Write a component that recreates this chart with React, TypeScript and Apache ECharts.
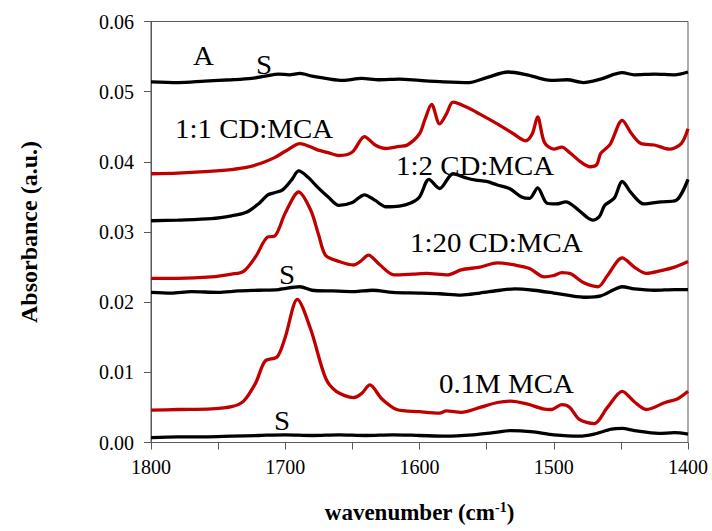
import React, { useEffect, useRef } from "react";
import * as echarts from "echarts";

// x-axis ticks (wavenumber, cm-1)
const xTicks = [1800, 1700, 1600, 1500, 1400];
const yTicks = [0, 0.01, 0.02, 0.03, 0.04, 0.05, 0.06];

// "A" spectrum (black, top)
const wnA = [1800, 1780, 1760, 1740, 1725, 1715, 1705, 1697, 1689, 1680, 1670, 1657, 1643, 1630, 1615, 1600, 1582, 1563, 1550, 1534, 1520, 1502, 1490, 1478, 1465, 1449, 1440, 1425, 1410, 1400];
const absA = [0.0514, 0.0513, 0.0515, 0.0517, 0.0519, 0.0522, 0.0525, 0.0524, 0.0526, 0.0522, 0.0519, 0.0516, 0.0519, 0.0517, 0.0518, 0.0516, 0.0514, 0.0513, 0.052, 0.0528, 0.0524, 0.0516, 0.0517, 0.0513, 0.0518, 0.0527, 0.0524, 0.0525, 0.0524, 0.0528];

// 1:1 CD:MCA (red)
const wn11 = [1800, 1780, 1760, 1740, 1729, 1718, 1708, 1700, 1689, 1682, 1676, 1668, 1660, 1650, 1641, 1633, 1625, 1615, 1609, 1600, 1596, 1591, 1585, 1580, 1575, 1565, 1555, 1542, 1530, 1521, 1516, 1512, 1507, 1500, 1494, 1488, 1480, 1473, 1468, 1465, 1458, 1449, 1442, 1435, 1425, 1414, 1405, 1400];
const abs11 = [0.0383, 0.0384, 0.0386, 0.0389, 0.0392, 0.0398, 0.0406, 0.0415, 0.0426, 0.0422, 0.0417, 0.0413, 0.0409, 0.0414, 0.0436, 0.0424, 0.0419, 0.0422, 0.0424, 0.044, 0.046, 0.0482, 0.0454, 0.0468, 0.0485, 0.0478, 0.0468, 0.0454, 0.044, 0.043, 0.044, 0.0464, 0.0428, 0.0418, 0.0421, 0.0413, 0.04, 0.0393, 0.0396, 0.0412, 0.0425, 0.0459, 0.044, 0.0426, 0.0424, 0.0418, 0.0426, 0.0447];

// 1:2 CD:MCA (black)
const wn12 = [1800, 1780, 1755, 1740, 1729, 1720, 1713, 1708, 1702, 1695, 1690, 1683, 1676, 1668, 1660, 1650, 1641, 1633, 1625, 1615, 1607, 1600, 1593, 1585, 1575, 1565, 1558, 1550, 1542, 1533, 1524, 1518, 1512, 1505, 1498, 1491, 1482, 1471, 1466, 1462, 1455, 1449, 1442, 1433, 1420, 1409, 1400];
const abs12 = [0.0316, 0.0317, 0.0319, 0.0323, 0.0328, 0.034, 0.0353, 0.0356, 0.036, 0.0375, 0.0387, 0.0378, 0.0364, 0.035, 0.0338, 0.0342, 0.0353, 0.0345, 0.0336, 0.0337, 0.0341, 0.035, 0.0375, 0.0362, 0.0383, 0.0377, 0.0374, 0.0372, 0.0367, 0.0362, 0.035, 0.0348, 0.0363, 0.0341, 0.034, 0.0343, 0.0332, 0.0317, 0.0322, 0.0338, 0.0348, 0.0372, 0.0355, 0.034, 0.0343, 0.0345, 0.0375];

// 1:20 CD:MCA (red)
const wn120 = [1800, 1780, 1755, 1740, 1731, 1722, 1713, 1708, 1700, 1690, 1681, 1675, 1670, 1660, 1649, 1644, 1638, 1630, 1619, 1605, 1595, 1579, 1569, 1555, 1542, 1529, 1518, 1507, 1500, 1494, 1487, 1478, 1467, 1460, 1449, 1440, 1431, 1420, 1410, 1400];
const abs120 = [0.0234, 0.0234, 0.0236, 0.024, 0.0244, 0.0265, 0.0293, 0.0294, 0.0327, 0.0357, 0.0331, 0.0295, 0.0267, 0.0258, 0.0253, 0.0258, 0.0267, 0.0254, 0.0239, 0.024, 0.0241, 0.0239, 0.0246, 0.025, 0.0256, 0.0253, 0.0248, 0.0236, 0.0238, 0.0242, 0.024, 0.0228, 0.0222, 0.0238, 0.0263, 0.025, 0.0241, 0.0245, 0.025, 0.0258];

// S (black, middle)
const wnSmid = [1800, 1785, 1770, 1750, 1735, 1720, 1705, 1689, 1680, 1665, 1649, 1635, 1620, 1600, 1585, 1569, 1555, 1540, 1529, 1515, 1500, 1490, 1476, 1465, 1455, 1449, 1440, 1425, 1410, 1400];
const absSmid = [0.0214, 0.0213, 0.0215, 0.0214, 0.0216, 0.0217, 0.0218, 0.0222, 0.0217, 0.0216, 0.0215, 0.0217, 0.0214, 0.0213, 0.0212, 0.021, 0.0213, 0.0217, 0.0219, 0.0217, 0.0213, 0.021, 0.0207, 0.0209, 0.0218, 0.0222, 0.0219, 0.0217, 0.0218, 0.0218];

// 0.1M MCA (red)
const wnMCA = [1800, 1780, 1755, 1740, 1731, 1722, 1715, 1706, 1700, 1691, 1681, 1670, 1662, 1649, 1643, 1637, 1628, 1617, 1600, 1585, 1580, 1569, 1555, 1542, 1532, 1520, 1508, 1502, 1494, 1488, 1481, 1470, 1460, 1449, 1440, 1431, 1417, 1408, 1400];
const absMCA = [0.0046, 0.0047, 0.0048, 0.0051, 0.0059, 0.0085, 0.0116, 0.0122, 0.015, 0.0204, 0.0161, 0.0092, 0.0073, 0.0064, 0.007, 0.0082, 0.0062, 0.0047, 0.0044, 0.0042, 0.0045, 0.0043, 0.005, 0.0057, 0.0059, 0.0055, 0.0048, 0.0047, 0.0054, 0.005, 0.0033, 0.0027, 0.005, 0.0073, 0.0058, 0.0047, 0.0057, 0.0062, 0.0073];

// S (black, bottom)
const wnSbot = [1800, 1780, 1760, 1740, 1720, 1700, 1680, 1660, 1640, 1620, 1600, 1580, 1560, 1545, 1532, 1515, 1500, 1481, 1470, 1457, 1449, 1440, 1422, 1410, 1400];
const absSbot = [0.0007, 0.0008, 0.0008, 0.0009, 0.001, 0.0011, 0.001, 0.0011, 0.001, 0.0011, 0.001, 0.0009, 0.0011, 0.0014, 0.0017, 0.0015, 0.0011, 0.0009, 0.0012, 0.0019, 0.002, 0.0017, 0.0013, 0.0014, 0.0012];

const RED = "#C00000";
const BLACK = "#000000";
const FONT = "Liberation Serif";

export default function App() {
  const ref = useRef<HTMLDivElement>(null);
  useEffect(() => {
    const chart = echarts.init(ref.current!, null, { renderer: "svg" });
    const mk = (name: string, wn: number[], ab: number[], color: string) => ({
      name,
      type: "line",
      data: wn.map((w, i) => [w, ab[i]]),
      showSymbol: false,
      symbol: "none",
      smooth: 0.3,
      lineStyle: { color, width: 3.3 },
      itemStyle: { color },
    });
    const label = (text: string, x: number, y: number) => ({
      type: "text",
      x,
      y,
      scaleX: 1.07,
      style: {
        text,
        fill: "#000",
        font: `27px "${FONT}", serif`,
        textAlign: "left",
        textVerticalAlign: "middle",
      },
    });
    chart.setOption({
      animation: false,
      backgroundColor: "#fff",
      textStyle: { fontFamily: FONT },
      grid: {
        left: 151,
        right: 24,
        top: 21.5,
        bottom: 88.5,
        show: true,
        borderColor: "#595959",
        borderWidth: 1,
      },
      xAxis: {
        type: "value",
        min: xTicks[xTicks.length - 1],
        max: xTicks[0],
        interval: 100,
        inverse: true,
        name: "wavenumber (cm{sup|-1})",
        nameLocation: "middle",
        nameGap: 58,
        nameTextStyle: {
          fontFamily: FONT,
          fontWeight: "bold",
          fontSize: 23,
          color: "#000",
          rich: {
            sup: { fontFamily: FONT, fontWeight: "bold", fontSize: 14, verticalAlign: "top", padding: [0, 0, 10, 0], color: "#000" },
          },
        },
        axisLine: { show: true, lineStyle: { color: "#595959", width: 1 } },
        axisTick: { show: true, inside: false, length: 7, lineStyle: { color: "#595959" } },
        minorTick: { show: true, splitNumber: 2, length: 7, lineStyle: { color: "#595959" } },
        splitLine: { show: false },
        axisLabel: {
          fontFamily: FONT,
          fontSize: 20,
          color: "#000",
          margin: 14,
          formatter: (v: number) => String(v),
        },
      },
      yAxis: {
        type: "value",
        min: yTicks[0],
        max: yTicks[yTicks.length - 1],
        interval: 0.01,
        name: "Absorbance (a.u.)",
        nameLocation: "middle",
        nameGap: 110,
        nameTextStyle: { fontFamily: FONT, fontWeight: "bold", fontSize: 24, color: "#000" },
        axisLine: { show: true, lineStyle: { color: "#595959", width: 1 } },
        axisTick: { show: true, inside: false, length: 7, lineStyle: { color: "#595959" } },
        splitLine: { show: false },
        axisLabel: {
          fontFamily: FONT,
          fontSize: 20,
          color: "#000",
          margin: 17,
          formatter: (v: number) => v.toFixed(2),
        },
      },
      series: [
        mk("A", wnA, absA, BLACK),
        mk("1:1 CD:MCA", wn11, abs11, RED),
        mk("1:2 CD:MCA", wn12, abs12, BLACK),
        mk("1:20 CD:MCA", wn120, abs120, RED),
        mk("S (middle)", wnSmid, absSmid, BLACK),
        mk("0.1M MCA", wnMCA, absMCA, RED),
        mk("S (bottom)", wnSbot, absSbot, BLACK),
      ],
      graphic: [
        label("A", 193, 56),
        label("S", 256, 65),
        label("1:1 CD:MCA", 175, 129),
        label("1:2 CD:MCA", 396, 166),
        label("1:20 CD:MCA", 410, 243),
        label("S", 279, 275),
        label("0.1M MCA", 439, 384),
        label("S", 274, 421),
      ],
    });
    return () => chart.dispose();
  }, []);
  return (
    <div
      ref={ref}
      style={{ position: "fixed", left: 0, top: 0, width: 712, height: 531, background: "#fff" }}
    />
  );
}
